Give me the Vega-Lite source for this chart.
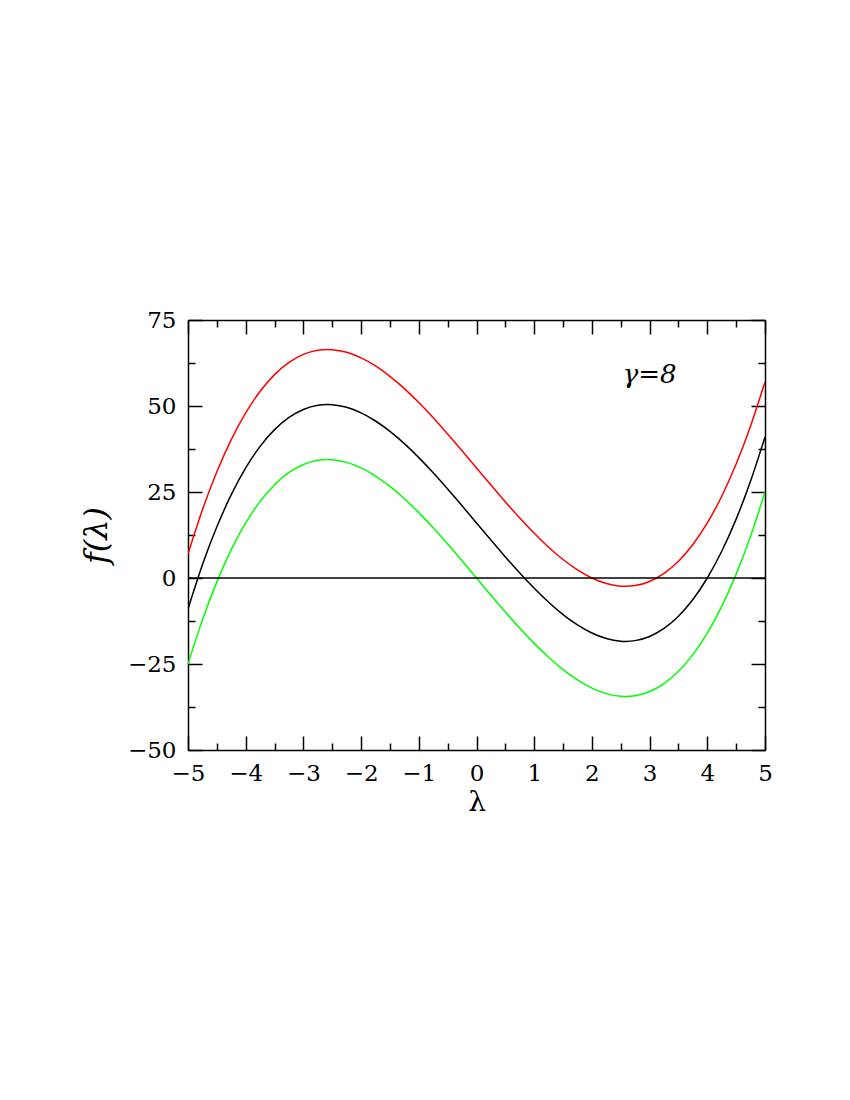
{
  "$schema": "https://vega.github.io/schema/vega-lite/v6.json",
  "width": 577,
  "height": 430,
  "autosize": "none",
  "padding": {"left": 188, "top": 320, "right": 85, "bottom": 350},
  "background": "white",
  "config": {
    "view": {"stroke": null},
    "axis": {
      "grid": false,
      "domainColor": "black",
      "domainWidth": 1.5,
      "tickColor": "black",
      "tickWidth": 1.5,
      "labelFont": "DejaVu Serif",
      "labelFontSize": 23,
      "labelColor": "black",
      "labelFlush": false,
      "labelOverlap": false,
      "titleColor": "black"
    }
  },
  "datasets": {
    "curves": [
      {"x": -5, "y": -25, "s": "g"}, {"x": -4.75, "y": -12.172, "s": "g"}, {"x": -4.5, "y": -1.125, "s": "g"}, {"x": -4.25, "y": 8.234, "s": "g"},
      {"x": -4, "y": 16, "s": "g"}, {"x": -3.75, "y": 22.266, "s": "g"}, {"x": -3.5, "y": 27.125, "s": "g"}, {"x": -3.25, "y": 30.672, "s": "g"},
      {"x": -3, "y": 33, "s": "g"}, {"x": -2.75, "y": 34.203, "s": "g"}, {"x": -2.5, "y": 34.375, "s": "g"}, {"x": -2.25, "y": 33.609, "s": "g"},
      {"x": -2, "y": 32, "s": "g"}, {"x": -1.75, "y": 29.641, "s": "g"}, {"x": -1.5, "y": 26.625, "s": "g"}, {"x": -1.25, "y": 23.047, "s": "g"},
      {"x": -1, "y": 19, "s": "g"}, {"x": -0.75, "y": 14.578, "s": "g"}, {"x": -0.5, "y": 9.875, "s": "g"}, {"x": -0.25, "y": 4.984, "s": "g"},
      {"x": 0, "y": 0, "s": "g"}, {"x": 0.25, "y": -4.984, "s": "g"}, {"x": 0.5, "y": -9.875, "s": "g"}, {"x": 0.75, "y": -14.578, "s": "g"},
      {"x": 1, "y": -19, "s": "g"}, {"x": 1.25, "y": -23.047, "s": "g"}, {"x": 1.5, "y": -26.625, "s": "g"}, {"x": 1.75, "y": -29.641, "s": "g"},
      {"x": 2, "y": -32, "s": "g"}, {"x": 2.25, "y": -33.609, "s": "g"}, {"x": 2.5, "y": -34.375, "s": "g"}, {"x": 2.75, "y": -34.203, "s": "g"},
      {"x": 3, "y": -33, "s": "g"}, {"x": 3.25, "y": -30.672, "s": "g"}, {"x": 3.5, "y": -27.125, "s": "g"}, {"x": 3.75, "y": -22.266, "s": "g"},
      {"x": 4, "y": -16, "s": "g"}, {"x": 4.25, "y": -8.234, "s": "g"}, {"x": 4.5, "y": 1.125, "s": "g"}, {"x": 4.75, "y": 12.172, "s": "g"},
      {"x": 5, "y": 25, "s": "g"},
      {"x": -5, "y": -9, "s": "k"}, {"x": -4.75, "y": 3.828, "s": "k"}, {"x": -4.5, "y": 14.875, "s": "k"}, {"x": -4.25, "y": 24.234, "s": "k"},
      {"x": -4, "y": 32, "s": "k"}, {"x": -3.75, "y": 38.266, "s": "k"}, {"x": -3.5, "y": 43.125, "s": "k"}, {"x": -3.25, "y": 46.672, "s": "k"},
      {"x": -3, "y": 49, "s": "k"}, {"x": -2.75, "y": 50.203, "s": "k"}, {"x": -2.5, "y": 50.375, "s": "k"}, {"x": -2.25, "y": 49.609, "s": "k"},
      {"x": -2, "y": 48, "s": "k"}, {"x": -1.75, "y": 45.641, "s": "k"}, {"x": -1.5, "y": 42.625, "s": "k"}, {"x": -1.25, "y": 39.047, "s": "k"},
      {"x": -1, "y": 35, "s": "k"}, {"x": -0.75, "y": 30.578, "s": "k"}, {"x": -0.5, "y": 25.875, "s": "k"}, {"x": -0.25, "y": 20.984, "s": "k"},
      {"x": 0, "y": 16, "s": "k"}, {"x": 0.25, "y": 11.016, "s": "k"}, {"x": 0.5, "y": 6.125, "s": "k"}, {"x": 0.75, "y": 1.422, "s": "k"},
      {"x": 1, "y": -3, "s": "k"}, {"x": 1.25, "y": -7.047, "s": "k"}, {"x": 1.5, "y": -10.625, "s": "k"}, {"x": 1.75, "y": -13.641, "s": "k"},
      {"x": 2, "y": -16, "s": "k"}, {"x": 2.25, "y": -17.609, "s": "k"}, {"x": 2.5, "y": -18.375, "s": "k"}, {"x": 2.75, "y": -18.203, "s": "k"},
      {"x": 3, "y": -17, "s": "k"}, {"x": 3.25, "y": -14.672, "s": "k"}, {"x": 3.5, "y": -11.125, "s": "k"}, {"x": 3.75, "y": -6.266, "s": "k"},
      {"x": 4, "y": 0, "s": "k"}, {"x": 4.25, "y": 7.766, "s": "k"}, {"x": 4.5, "y": 17.125, "s": "k"}, {"x": 4.75, "y": 28.172, "s": "k"},
      {"x": 5, "y": 41, "s": "k"},
      {"x": -5, "y": 7, "s": "r"}, {"x": -4.75, "y": 19.828, "s": "r"}, {"x": -4.5, "y": 30.875, "s": "r"}, {"x": -4.25, "y": 40.234, "s": "r"},
      {"x": -4, "y": 48, "s": "r"}, {"x": -3.75, "y": 54.266, "s": "r"}, {"x": -3.5, "y": 59.125, "s": "r"}, {"x": -3.25, "y": 62.672, "s": "r"},
      {"x": -3, "y": 65, "s": "r"}, {"x": -2.75, "y": 66.203, "s": "r"}, {"x": -2.5, "y": 66.375, "s": "r"}, {"x": -2.25, "y": 65.609, "s": "r"},
      {"x": -2, "y": 64, "s": "r"}, {"x": -1.75, "y": 61.641, "s": "r"}, {"x": -1.5, "y": 58.625, "s": "r"}, {"x": -1.25, "y": 55.047, "s": "r"},
      {"x": -1, "y": 51, "s": "r"}, {"x": -0.75, "y": 46.578, "s": "r"}, {"x": -0.5, "y": 41.875, "s": "r"}, {"x": -0.25, "y": 36.984, "s": "r"},
      {"x": 0, "y": 32, "s": "r"}, {"x": 0.25, "y": 27.016, "s": "r"}, {"x": 0.5, "y": 22.125, "s": "r"}, {"x": 0.75, "y": 17.422, "s": "r"},
      {"x": 1, "y": 13, "s": "r"}, {"x": 1.25, "y": 8.953, "s": "r"}, {"x": 1.5, "y": 5.375, "s": "r"}, {"x": 1.75, "y": 2.359, "s": "r"},
      {"x": 2, "y": 0, "s": "r"}, {"x": 2.25, "y": -1.609, "s": "r"}, {"x": 2.5, "y": -2.375, "s": "r"}, {"x": 2.75, "y": -2.203, "s": "r"},
      {"x": 3, "y": -1, "s": "r"}, {"x": 3.25, "y": 1.328, "s": "r"}, {"x": 3.5, "y": 4.875, "s": "r"}, {"x": 3.75, "y": 9.734, "s": "r"},
      {"x": 4, "y": 16, "s": "r"}, {"x": 4.25, "y": 23.766, "s": "r"}, {"x": 4.5, "y": 33.125, "s": "r"}, {"x": 4.75, "y": 44.172, "s": "r"},
      {"x": 5, "y": 57, "s": "r"}
    ],
    "zero": [{"x": -5, "x2": 5, "y": 0}],
    "label": [{"x": 3, "y": 59, "t": "γ=8"}]
  },
  "resolve": {"axis": {"x": "independent", "y": "independent"}},
  "layer": [
    {
      "data": {"name": "curves"},
      "mark": {"type": "line", "interpolate": "natural", "strokeWidth": 1.5, "clip": true},
      "encoding": {
        "x": {
          "field": "x", "type": "quantitative",
          "scale": {"domain": [-5, 5], "nice": false, "zero": false},
          "axis": {"orient": "bottom", "values": [-5, -4, -3, -2, -1, 0, 1, 2, 3, 4, 5], "format": "d", "tickSize": -14, "labelPadding": 26, "title": "λ", "titleFont": "DejaVu Serif", "titleFontSize": 28, "titleFontWeight": "normal", "titlePadding": 3}
        },
        "y": {
          "field": "y", "type": "quantitative",
          "scale": {"domain": [-50, 75], "nice": false, "zero": false},
          "axis": {"orient": "left", "values": [-50, -25, 0, 25, 50, 75], "format": "d", "tickSize": -14, "labelPadding": 26, "title": "f(λ)", "titleFont": "DejaVu Serif", "titleFontStyle": "italic", "titleFontSize": 32, "titleFontWeight": "normal", "titlePadding": 14}
        },
        "color": {"field": "s", "type": "nominal", "scale": {"domain": ["r", "k", "g"], "range": ["#ff0000", "#000000", "#00ff00"]}, "legend": null},
        "detail": {"field": "s"}
      }
    },
    {
      "data": {"name": "zero"},
      "mark": {"type": "rule", "color": "black", "strokeWidth": 1.5},
      "encoding": {
        "x": {"field": "x", "type": "quantitative", "axis": {"orient": "bottom", "values": [-4.5, -3.5, -2.5, -1.5, -0.5, 0.5, 1.5, 2.5, 3.5, 4.5], "tickSize": -7, "labels": false, "domain": false, "title": null}},
        "x2": {"field": "x2"},
        "y": {"field": "y", "type": "quantitative", "axis": {"orient": "left", "values": [-37.5, -12.5, 12.5, 37.5, 62.5], "tickSize": -7, "labels": false, "domain": false, "title": null}}
      }
    },
    {
      "data": {"name": "label"},
      "mark": {"type": "text", "font": "DejaVu Serif", "fontStyle": "italic", "fontSize": 26, "color": "black"},
      "encoding": {
        "x": {"field": "x", "type": "quantitative", "axis": {"orient": "top", "values": [-5, -4, -3, -2, -1, 0, 1, 2, 3, 4, 5], "tickSize": -14, "labels": false, "title": null}},
        "y": {"field": "y", "type": "quantitative", "axis": {"orient": "right", "values": [-50, -25, 0, 25, 50, 75], "tickSize": -14, "labels": false, "title": null}},
        "text": {"field": "t"}
      }
    },
    {
      "data": {"name": "label"},
      "mark": {"type": "point", "opacity": 0},
      "encoding": {
        "x": {"field": "x", "type": "quantitative", "axis": {"orient": "top", "values": [-4.5, -3.5, -2.5, -1.5, -0.5, 0.5, 1.5, 2.5, 3.5, 4.5], "tickSize": -7, "labels": false, "domain": false, "title": null}},
        "y": {"field": "y", "type": "quantitative", "axis": {"orient": "right", "values": [-37.5, -12.5, 12.5, 37.5, 62.5], "tickSize": -7, "labels": false, "domain": false, "title": null}}
      }
    }
  ]
}
